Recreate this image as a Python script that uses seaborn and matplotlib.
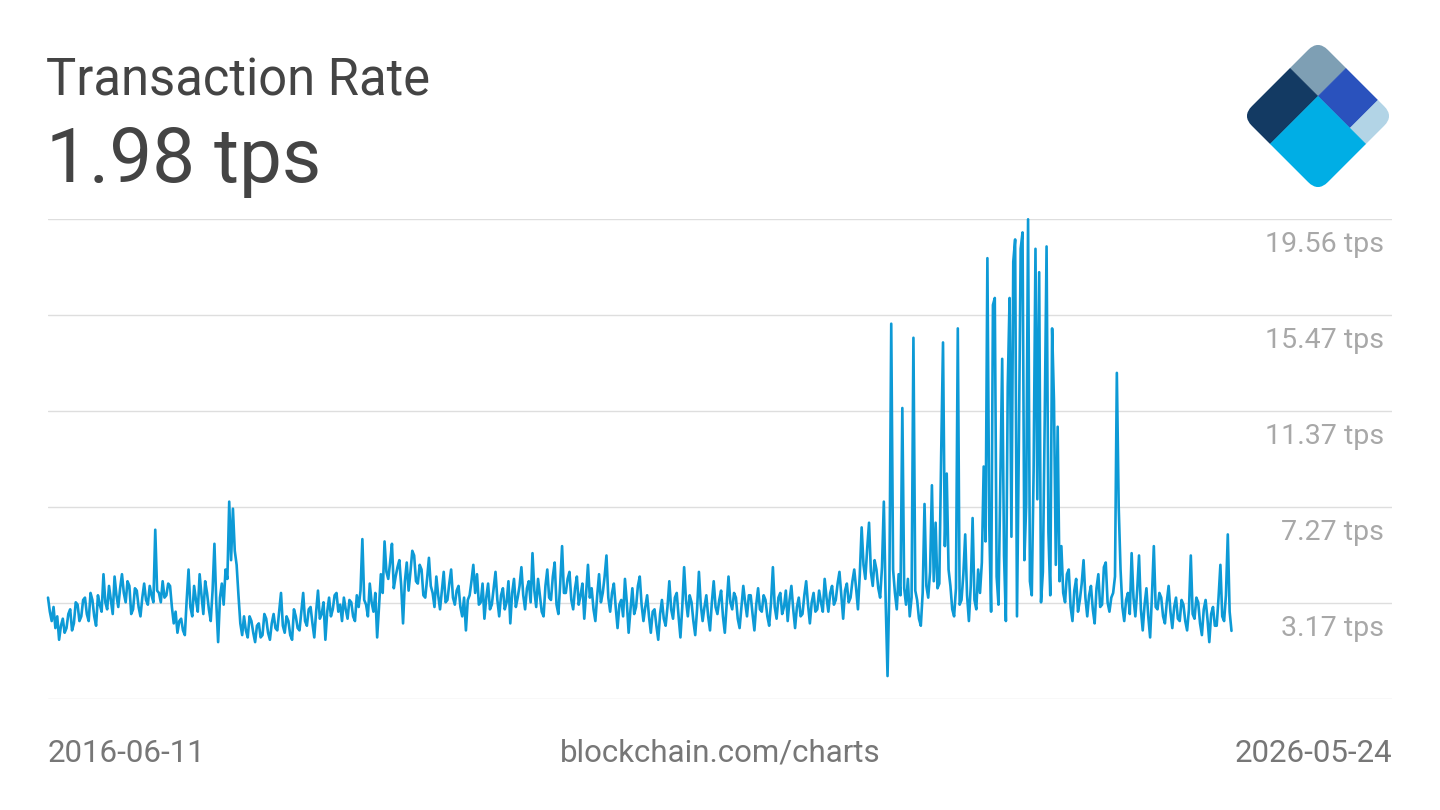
import numpy as np
import pandas as pd
import seaborn as sns
import matplotlib
matplotlib.use("Agg")
from matplotlib import pyplot as plt
from matplotlib.patches import Rectangle, FancyBboxPatch
from matplotlib.transforms import Affine2D

# transaction rate, one reading every 5 days from 2016-06-11
tps = [
    3.4, 2.8, 2.4, 3.0, 2.1, 2.6, 1.6, 2.2, 2.5, 1.9, 2.1, 2.7, 2.9, 2.0, 2.3, 3.2, 3.1, 2.4, 2.6, 3.3,
    3.4, 2.7, 2.4, 3.6, 3.3, 2.6, 2.2, 3.5, 3.1, 2.8, 4.4, 3.2, 2.9, 3.9, 3.3, 2.7, 4.3, 3.5, 3.0, 3.8,
    4.4, 3.6, 3.2, 4.1, 3.9, 2.7, 2.9, 3.8, 3.7, 3.0, 2.6, 3.4, 4.0, 3.3, 3.1, 3.9, 3.5, 3.2, 6.3, 3.7,
    3.6, 3.2, 4.1, 3.4, 3.5, 4.0, 3.9, 3.0, 2.3, 2.8, 1.9, 2.4, 2.5, 2.0, 1.8, 3.3, 4.6, 3.0, 2.6, 3.9,
    3.3, 2.8, 4.4, 3.5, 2.7, 4.1, 3.6, 2.9, 2.4, 3.7, 5.7, 3.2, 1.5, 3.4, 4.0, 3.1, 4.6, 4.2, 7.5, 5.0,
    7.2, 5.4, 4.8, 3.5, 2.3, 1.8, 2.6, 2.0, 1.7, 2.6, 2.4, 1.9, 1.5, 2.2, 2.3, 1.7, 1.8, 2.7, 2.5, 1.9,
    1.6, 2.3, 2.7, 2.1, 2.0, 2.8, 3.6, 2.2, 1.9, 2.6, 2.4, 1.8, 1.6, 2.9, 2.6, 2.1, 2.0, 2.8, 3.6, 2.4,
    2.2, 2.9, 3.0, 2.3, 1.7, 2.8, 3.7, 2.5, 2.7, 3.2, 1.6, 2.8, 3.4, 2.6, 2.9, 3.5, 3.6, 2.8, 3.1, 2.4,
    3.4, 2.9, 2.5, 3.3, 3.2, 2.6, 2.4, 3.5, 3.0, 3.7, 5.9, 3.3, 3.1, 2.6, 4.0, 3.2, 2.8, 3.6, 1.7, 3.0,
    4.4, 3.6, 5.8, 4.5, 4.2, 4.9, 5.7, 3.8, 4.3, 4.7, 5.0, 3.9, 2.3, 4.1, 4.9, 3.7, 4.5, 5.4, 5.2, 4.1,
    4.0, 4.8, 4.6, 3.5, 3.4, 4.2, 5.1, 3.9, 3.6, 3.0, 4.3, 3.5, 2.9, 3.7, 4.5, 3.2, 3.3, 4.0, 4.6, 3.4,
    3.1, 3.7, 3.9, 3.0, 2.6, 3.4, 2.0, 3.3, 3.5, 4.1, 4.8, 3.6, 4.4, 3.1, 3.2, 4.0, 2.5, 3.4, 4.0, 2.9,
    3.1, 3.8, 4.5, 3.3, 2.6, 3.5, 3.8, 2.9, 3.2, 4.1, 2.3, 3.6, 4.2, 3.0, 3.4, 3.9, 4.7, 3.5, 2.9, 3.8,
    4.1, 3.2, 5.3, 3.7, 3.0, 4.2, 3.5, 2.8, 2.6, 3.9, 4.6, 3.4, 3.3, 4.3, 4.9, 3.1, 2.7, 4.0, 5.6, 3.6,
    3.6, 4.2, 4.5, 3.3, 2.9, 3.8, 4.3, 3.1, 3.5, 4.0, 2.5, 3.6, 4.8, 3.4, 3.8, 2.9, 2.4, 3.5, 4.4, 3.2,
    3.6, 4.3, 5.2, 3.4, 2.8, 3.6, 4.0, 3.0, 2.1, 3.1, 3.3, 2.6, 4.2, 3.2, 1.9, 2.9, 3.8, 2.7, 3.0, 3.9,
    4.3, 3.1, 2.4, 3.0, 3.5, 2.6, 1.9, 2.8, 2.9, 2.2, 1.6, 2.7, 3.3, 2.5, 2.2, 3.0, 4.1, 2.9, 2.5, 3.4,
    3.6, 2.6, 1.7, 3.0, 4.7, 3.3, 2.6, 3.5, 3.2, 2.4, 1.8, 2.9, 4.5, 3.1, 2.4, 3.0, 3.5, 2.6, 2.0, 3.2,
    4.1, 3.0, 2.7, 3.3, 3.7, 2.6, 1.9, 3.1, 4.3, 3.2, 2.9, 3.6, 3.4, 2.5, 2.1, 3.0, 3.9, 3.2, 2.6, 3.5,
    3.5, 2.7, 2.0, 3.1, 3.8, 2.9, 2.8, 3.5, 3.3, 2.6, 2.2, 3.2, 4.7, 3.0, 2.5, 3.4, 3.6, 2.7, 3.0, 3.7,
    2.4, 3.3, 3.9, 2.9, 2.1, 3.0, 3.4, 2.6, 2.7, 3.5, 4.1, 3.1, 2.3, 3.2, 3.6, 2.8, 2.9, 3.7, 3.2, 2.8,
    4.2, 3.4, 2.8, 3.6, 3.9, 3.1, 3.3, 4.0, 4.5, 3.5, 2.5, 3.7, 4.0, 3.2, 3.4, 4.1, 4.6, 3.8, 2.9, 4.4,
    6.4, 4.8, 4.2, 5.5, 6.6, 4.5, 3.9, 5.0, 4.6, 3.8, 3.4, 4.7, 7.5, 3.2, 0.05, 3.9, 15.1, 4.6, 3.6, 2.9,
    4.4, 3.5, 11.5, 3.8, 3.1, 4.2, 2.6, 3.4, 14.5, 3.7, 3.3, 2.5, 2.2, 3.6, 7.4, 3.9, 3.4, 4.5, 8.2, 4.1,
    6.6, 3.8, 4.0, 9.5, 14.3, 5.6, 8.7, 4.6, 3.9, 2.9, 2.6, 3.8, 14.9, 3.1, 3.3, 4.4, 6.1, 3.5, 2.4, 3.9,
    6.8, 3.3, 2.9, 4.6, 3.6, 4.9, 9.0, 5.8, 17.9, 6.5, 2.8, 15.9, 16.2, 4.3, 3.1, 8.5, 13.6, 5.2, 2.4, 12.4,
    16.2, 6.0, 17.75, 18.7, 2.6, 9.8, 18.3, 19.0, 5.0, 7.4, 19.56, 4.1, 3.5, 8.8, 18.3, 7.6, 17.3, 3.2, 4.5, 11.0,
    18.4, 6.2, 3.5, 14.9, 11.8, 4.8, 10.7, 4.1, 5.6, 3.6, 3.2, 4.4, 4.6, 3.0, 2.4, 3.7, 4.2, 2.8, 3.3, 4.0,
    5.0, 3.4, 2.6, 3.5, 3.9, 2.9, 2.3, 3.8, 4.4, 3.0, 3.1, 4.7, 4.9, 3.2, 2.8, 3.4, 3.6, 4.3, 13.0, 7.3,
    4.6, 3.0, 2.4, 3.3, 3.6, 2.7, 5.3, 3.4, 2.6, 3.7, 5.2, 2.9, 2.0, 3.1, 3.8, 2.6, 1.7, 3.5, 5.6, 3.0,
    2.9, 3.6, 3.4, 2.6, 2.3, 3.2, 3.9, 2.8, 2.1, 3.0, 3.4, 2.5, 2.4, 3.3, 3.1, 2.4, 2.0, 2.9, 5.2, 2.7,
    2.5, 3.4, 3.2, 2.3, 1.8, 2.9, 3.3, 2.5, 1.5, 2.7, 3.0, 2.2, 2.2, 3.4, 4.8, 2.6, 2.4, 3.5, 6.1, 2.8,
    1.98,
]
grid_vals = [-0.93, 3.17, 7.27, 11.37, 15.47, 19.56]
grid_labels = ["", "3.17 tps", "7.27 tps", "11.37 tps", "15.47 tps", "19.56 tps"]
start_date = "2016-06-11"
end_date = "2026-05-24"
current = "1.98 tps"

dates = pd.date_range(start_date, periods=len(tps), freq="5D")
df = pd.DataFrame({"date": dates, "tps": tps})

sns.set_theme(style="white")
plt.rcParams["font.family"] = ["Roboto", "DejaVu Sans"]

fig = plt.figure(figsize=(14.4, 8.1), dpi=100)
ax = fig.add_axes([48 / 1440, 111 / 810, 1344 / 1440, 479.7 / 810])

sns.lineplot(data=df, x="date", y="tps", ax=ax, color="#0d9ad6", linewidth=1.9)
for ln in ax.lines:
    ln.set_clip_on(False)

ax.set_xlim(pd.Timestamp(start_date), pd.Timestamp(end_date))
ax.set_ylim(grid_vals[0], grid_vals[-1])
for v in grid_vals:
    ax.axhline(v, color="#dedede", linewidth=1.0, zorder=0)
for v, lab in zip(grid_vals, grid_labels):
    ax.annotate(lab, xy=(0.994, v), xycoords=("axes fraction", "data"),
                xytext=(0, -18.2), textcoords="offset points",
                ha="right", va="center", fontsize=20.5, color="#a8a8a8")
ax.set_xticks([])
ax.set_yticks([])
ax.set_xlabel("")
ax.set_ylabel("")
sns.despine(ax=ax, left=True, bottom=True)

fig.text(46 / 1440, 1 - 95 / 810, "Transaction Rate", fontsize=36.5, color="#444444",
         ha="left", va="baseline")
fig.text(46 / 1440, 1 - 182 / 810, current, fontsize=55, color="#444444",
         ha="left", va="baseline")

fig.text(48 / 1440, 1 - 753 / 810, start_date, fontsize=22.5, color="#777777",
         ha="left", va="center")
fig.text(720 / 1440, 1 - 753 / 810, "blockchain.com/charts", fontsize=22.5,
         color="#777777", ha="center", va="center")
fig.text(1392 / 1440, 1 - 753 / 810, end_date, fontsize=22.5, color="#777777",
         ha="right", va="center")

# logo
lax = fig.add_axes([1242 / 1440, 1 - 192 / 810, 152 / 1440, 152 / 810])
lax.set_xlim(-1, 1)
lax.set_ylim(-1, 1)
lax.axis("off")
tr = Affine2D(np.array([[1.0, -1.0, 0.0], [-1.0, -1.0, 1.0], [0.0, 0.0, 1.0]])) + lax.transData
clip = FancyBboxPatch((0, 0), 1, 1, boxstyle="round,pad=0,rounding_size=0.13",
                      transform=tr, facecolor="none", edgecolor="none")
lax.add_patch(clip)
pieces = [
    ((0, 0), 0.37, 0.37, "#7e9fb4"),
    ((0.37, 0), 0.42, 0.37, "#2a52bd"),
    ((0.79, 0), 0.21, 0.37, "#b2d4e6"),
    ((0, 0.37), 0.37, 0.63, "#133a63"),
    ((0.37, 0.37), 0.63, 0.63, "#00aee5"),
]
for xy, w, h, c in pieces:
    r = Rectangle(xy, w, h, facecolor=c, edgecolor=c, linewidth=0.3, transform=tr)
    lax.add_patch(r)
    r.set_clip_path(clip)

fig.savefig("out.png", dpi=100)
